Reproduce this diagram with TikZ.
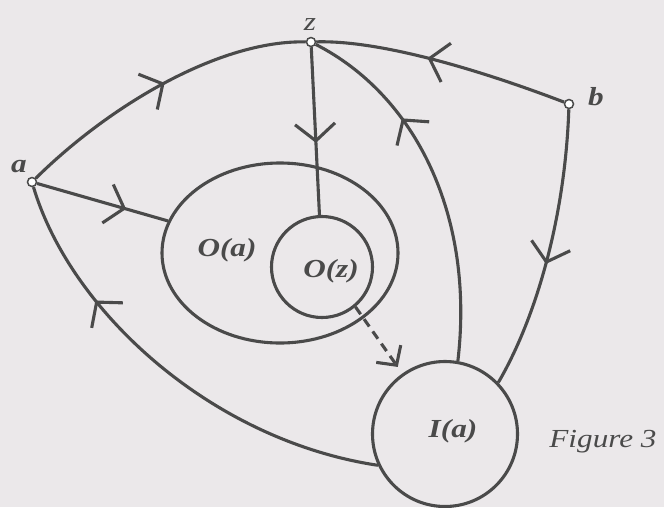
\documentclass[tikz,border=0pt]{standalone}
\usepackage{fontspec}
\setmainfont[FakeStretch=1.2]{Liberation Serif}
\usepackage{tikz}
\usetikzlibrary{arrows.meta,positioning,shapes.geometric,decorations.markings}
\definecolor{paper}{HTML}{EBE8EA}
\definecolor{ink}{HTML}{4A4A4A}

\begin{document}
\begin{tikzpicture}[x=1pt, y=-1pt, line width=3.1pt, color=ink,
  vertex/.style={circle, draw, fill=white, line width=1.5pt, inner sep=0pt, minimum size=9pt},
  region/.style={draw, inner sep=0pt},
  lbl/.style={anchor=base, font=\fontsize{26}{29}\selectfont\bfseries\itshape},
  mid/.style={postaction={decorate}, decoration={markings,
    mark=at position #1 with {\arrow{Straight Barb[length=17pt,width=40pt]}}}},
  dasharrow/.style={dash pattern=on 9pt off 6pt, -{Straight Barb[length=14pt,width=30pt]}, shorten >=8pt}
]
\fill[paper] (0,0) rectangle (664,507);
\useasboundingbox (0,0) rectangle (664,507);

% sets
\node[region, ellipse, minimum width=236pt, minimum height=180pt] (Oa) at (280,253) {};
\node[region, circle, minimum size=101pt] (Oz) at (322,267) {};
\node[region, circle, minimum size=145pt] (Ia) at (445,434) {};
\node[lbl] (Oalab) at (227,256) {O(a)};
\node[lbl] (Ozlab) at (331,277) {O(z)};
\node[lbl] (Ialab) at (453,437) {I(a)};

% vertices
\node[vertex] (a) at (32,182) {};
\node[vertex] (z) at (311,42) {};
\node[vertex] (b) at (569,104) {};
\node[lbl] (alab) at (19,172) {a};
\node[lbl, font=\fontsize{26}{29}\selectfont\itshape] (zlab) at (310,30) {z};
\node[lbl] (blab) at (596,105) {b};

% edges
\draw[mid=0.52] (a) .. controls (110,105) and (220,40) .. (z);
\draw[mid=0.56] (b) .. controls (480,70) and (380,40) .. (z);
\draw[mid=0.57] (z) -- (Oz);
\draw[mid=0.68] (a) -- (Oa);
\draw[mid=0.69] (Ia.80) .. controls (475,215) and (415,95) .. (z);
\draw[mid=0.55] (b) .. controls (565,220) and (535,320) .. (Ia.44);
\draw[mid=0.72] (Ia.205) .. controls (210,440) and (70,310) .. (a);
\draw[dasharrow] (Oz.-50) -- (Ia);

\node[anchor=base, font=\fontsize{26}{30}\selectfont\itshape] (fig) at (603,447) {Figure 3};
\end{tikzpicture}
\end{document}
